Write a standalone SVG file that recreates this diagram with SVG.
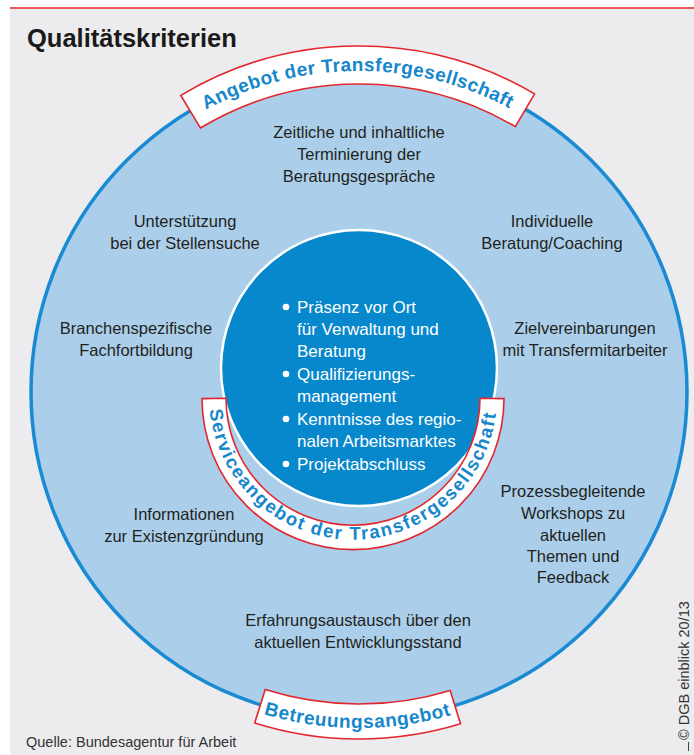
<svg xmlns="http://www.w3.org/2000/svg" width="694" height="755" viewBox="0 0 694 755">
  <style>
    .body { font-family: "Liberation Sans", Arial, sans-serif; font-size: 16.5px; fill: #231f20; text-anchor: middle; }
    .list { font-family: "Liberation Sans", Arial, sans-serif; font-size: 17px; fill: #ffffff; }
    .band { fill: #ffffff; stroke: #e3262d; stroke-width: 1.6; }
    .bandtext { font-family: "Liberation Sans", Arial, sans-serif; font-weight: bold; fill: #1687cb; }
    .title { font-family: "Liberation Sans", Arial, sans-serif; font-weight: bold; font-size: 25.5px; fill: #1a1a1a; }
    .small { font-family: "Liberation Sans", Arial, sans-serif; font-size: 14.5px; fill: #333333; }
  </style>
  <defs>
    <path id="arcTop" d="M205.8,109.9 A321,321 0 0 1 512.2,109.9"/>
    <path id="arcBottom" d="M263.6,714.2 A336,336 0 0 0 454.4,714.2"/>
    <path id="arcInner" d="M209.7,409.8 A144,144 0 0 0 496.3,409.8"/>
  </defs>

  <!-- page background and top rule -->
  <rect x="10" y="8" width="684" height="747" fill="#ececee"/>
  <line x1="10" y1="8" x2="694" y2="8" stroke="#e3262d" stroke-width="1.6"/>

  <text class="title" x="27" y="47">Qualitätskriterien</text>

  <!-- outer ring -->
  <g id="outer-circle">
    <circle cx="359" cy="392" r="328" fill="#abcfeb" stroke="#1a8bd3" stroke-width="3.5"/>
  </g>

  <g id="banner-top">
    <path class="band" d="M180.8,95.4 A346,346 0 0 1 534.6,93.9 L515.3,126.6 A308,308 0 0 0 200.4,128 Z"/>
    <text class="bandtext" font-size="19"><textPath href="#arcTop" textLength="316" lengthAdjust="spacing">Angebot der Transfergesellschaft</textPath></text>
  </g>

  <g id="banner-bottom">
    <path class="band" d="M254.7,722.9 A347,347 0 0 0 460.5,723.8 L450.2,690.4 A312,312 0 0 1 265.2,689.6 Z"/>
    <text class="bandtext" font-size="19"><textPath href="#arcBottom" textLength="190" lengthAdjust="spacing">Betreuungsangebot</textPath></text>
  </g>

  <!-- inner core with its bullet list -->
  <g id="inner-circle">
    <circle cx="359" cy="368" r="138" fill="#0787cc" stroke="#ffffff" stroke-width="2.5"/>
    <circle cx="286" cy="307" r="3.3" fill="#ffffff"/>
    <circle cx="286" cy="374" r="3.3" fill="#ffffff"/>
    <circle cx="286" cy="419" r="3.3" fill="#ffffff"/>
    <circle cx="286" cy="464" r="3.3" fill="#ffffff"/>
    <text class="list" x="297" y="313">Präsenz vor Ort</text>
    <text class="list" x="297" y="335">für Verwaltung und</text>
    <text class="list" x="297" y="357">Beratung</text>
    <text class="list" x="297" y="380">Qualifizierungs-</text>
    <text class="list" x="297" y="402">management</text>
    <text class="list" x="297" y="425">Kenntnisse des regio-</text>
    <text class="list" x="297" y="447">nalen Arbeitsmarktes</text>
    <text class="list" x="297" y="470">Projektabschluss</text>
  </g>

  <g id="banner-inner">
    <path class="band" d="M202,398.6 A151,151 0 0 0 504,398.6 L480,398.2 A127,127 0 0 1 226,398.2 Z"/>
    <text class="bandtext" font-size="18.5"><textPath href="#arcInner" textLength="420" lengthAdjust="spacing">Serviceangebot der Transfergesellschaft</textPath></text>
  </g>

  <!-- criteria around the ring -->
  <g id="n-terminierung">
    <text class="body" x="359" y="138">Zeitliche und inhaltliche</text>
    <text class="body" x="359" y="160">Terminierung der</text>
    <text class="body" x="359" y="182">Beratungsgespräche</text>
  </g>
  <g id="n-stellensuche">
    <text class="body" x="185" y="227">Unterstützung</text>
    <text class="body" x="185" y="249">bei der Stellensuche</text>
  </g>
  <g id="n-coaching">
    <text class="body" x="552" y="227">Individuelle</text>
    <text class="body" x="552" y="249">Beratung/Coaching</text>
  </g>
  <g id="n-fachfortbildung">
    <text class="body" x="136" y="334">Branchenspezifische</text>
    <text class="body" x="136" y="356">Fachfortbildung</text>
  </g>
  <g id="n-zielvereinbarungen">
    <text class="body" x="585" y="334">Zielvereinbarungen</text>
    <text class="body" x="585" y="356">mit Transfermitarbeiter</text>
  </g>
  <g id="n-existenzgruendung">
    <text class="body" x="184" y="520">Informationen</text>
    <text class="body" x="184" y="542">zur Existenzgründung</text>
  </g>
  <g id="n-workshops">
    <text class="body" x="573" y="497">Prozessbegleitende</text>
    <text class="body" x="573" y="519">Workshops zu</text>
    <text class="body" x="573" y="541">aktuellen</text>
    <text class="body" x="573" y="562">Themen und</text>
    <text class="body" x="573" y="583">Feedback</text>
  </g>
  <g id="n-erfahrungsaustausch">
    <text class="body" x="358" y="626">Erfahrungsaustausch über den</text>
    <text class="body" x="358" y="648">aktuellen Entwicklungsstand</text>
  </g>

  <!-- source and credit -->
  <text class="small" x="26" y="747">Quelle: Bundesagentur für Arbeit</text>
  <line x1="688.5" y1="742" x2="688.5" y2="751" stroke="#444444" stroke-width="1"/>
  <text class="small" font-size="13.5" transform="translate(689,740) rotate(-90)">© DGB einblick 20/13</text>
</svg>
